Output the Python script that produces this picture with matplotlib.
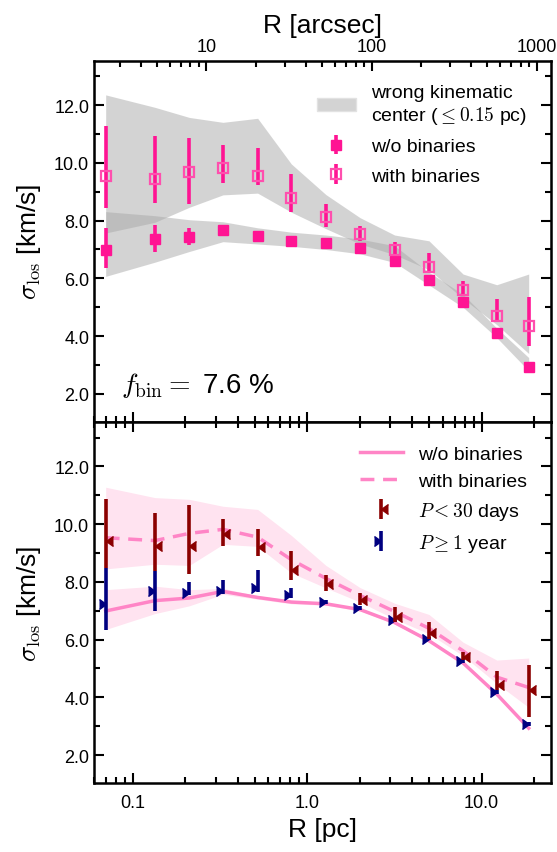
import numpy as np
import matplotlib
matplotlib.use("Agg")
import matplotlib.pyplot as plt
from matplotlib.patches import Patch
from matplotlib.ticker import MultipleLocator, FixedLocator, FixedFormatter, LogLocator, NullFormatter

plt.rcParams['font.family'] = ['Liberation Sans', 'DejaVu Sans']
plt.rcParams['mathtext.fontset'] = 'cm'

# radial bins [pc]
r_pc = [0.070, 0.134, 0.211, 0.329, 0.520, 0.811, 1.28, 2.01, 3.17, 4.99, 7.82, 12.2, 18.6]

# dispersion without binaries [km/s] and its error range
sig_nobin = [6.99, 7.35, 7.44, 7.67, 7.46, 7.30, 7.24, 7.04, 6.59, 5.96, 5.19, 4.11, 2.93]
sig_nobin_hi = [7.73, 7.85, 7.73, 7.77, 7.52, 7.36, 7.29, 7.09, 6.64, 6.01, 5.24, 4.16, 2.98]
sig_nobin_lo = [6.35, 6.90, 7.17, 7.57, 7.40, 7.24, 7.19, 6.99, 6.54, 5.91, 5.14, 4.06, 2.88]

# dispersion with binaries [km/s] and its error range
sig_bin = [9.53, 9.43, 9.68, 9.82, 9.55, 8.77, 8.12, 7.53, 6.97, 6.39, 5.61, 4.70, 4.34]
sig_bin_hi = [11.28, 10.92, 10.86, 10.62, 10.51, 9.61, 8.57, 7.80, 7.26, 6.87, 5.91, 5.29, 5.36]
sig_bin_lo = [8.45, 8.61, 8.57, 9.30, 9.23, 8.31, 7.79, 7.30, 6.71, 6.20, 5.44, 4.48, 3.65]

# wrong kinematic centre envelopes
wrong_bin_top = [12.35, 11.92, 11.57, 11.40, 11.54, 9.96, 8.90, 8.10, 7.50, 7.30, 6.15, 5.78, 6.15]
wrong_bin_bot = [7.57, 7.94, 8.46, 8.89, 8.95, 8.29, 7.72, 7.19, 6.82, 6.30, 5.30, 4.40, 3.40]
wrong_nobin_top = [8.31, 8.17, 8.03, 7.96, 7.75, 7.60, 7.50, 7.36, 7.13, 6.21, 5.45, 4.28, 3.26]
wrong_nobin_bot = [6.07, 6.56, 6.93, 7.27, 7.19, 7.11, 7.00, 6.85, 6.55, 5.77, 5.00, 3.95, 2.80]

# short period binaries (P < 30 days)
sig_short = [9.43, 9.24, 9.26, 9.67, 9.20, 8.42, 7.93, 7.37, 6.78, 6.24, 5.40, 4.42, 4.25]
sig_short_hi = [10.87, 10.39, 10.66, 10.18, 9.83, 9.06, 8.24, 7.62, 7.13, 6.61, 5.57, 4.90, 5.11]
sig_short_lo = [8.47, 8.39, 8.28, 9.26, 8.91, 8.05, 7.70, 7.21, 6.61, 6.03, 5.28, 4.25, 3.33]

# long period binaries (P >= 1 year)
sig_long = [7.22, 7.70, 7.62, 7.70, 7.78, 7.53, 7.30, 7.10, 6.67, 6.03, 5.26, 4.19, 3.07]
sig_long_hi = [8.47, 8.39, 7.99, 8.05, 8.42, 7.80, 7.36, 7.16, 6.73, 6.09, 5.32, 4.25, 3.13]
sig_long_lo = [6.32, 6.98, 7.53, 7.59, 7.64, 7.44, 7.24, 7.04, 6.61, 5.97, 5.20, 4.13, 3.01]

pink = '#ff1493'
W, H = 557, 853
fig = plt.figure(figsize=(W / 100, H / 100), dpi=100)
x0, x1 = 94 / W, 550.5 / W
ax1 = fig.add_axes([x0, 1 - 423 / H, x1 - x0, (423 - 61.5) / H])
ax2 = fig.add_axes([x0, 1 - 784 / H, x1 - x0, (784 - 423) / H])


def yerr(v, hi, lo):
    v = np.array(v)
    return [v - np.array(lo), np.array(hi) - v]


def style(ax):
    ax.set_xscale('log')
    ax.set_xlim(0.060, 24.8)
    ax.set_ylim(1.03, 13.54)
    ax.yaxis.set_major_locator(MultipleLocator(2))
    ax.yaxis.set_minor_locator(MultipleLocator(1))
    ax.yaxis.set_major_formatter(plt.FormatStrFormatter('%.1f'))
    ax.tick_params(which='both', direction='in', right=True, top=True, width=1.5, labelsize=13)
    ax.tick_params(which='major', length=7)
    ax.tick_params(which='minor', length=4)
    for s in ax.spines.values():
        s.set_linewidth(1.8)
    ax.set_ylabel(r'$\sigma_{\rm los}$ [km/s]', fontsize=19, labelpad=8)


# ---- top panel
style(ax1)
ax1.fill_between(r_pc, wrong_bin_bot, wrong_bin_top, color='darkgray', alpha=0.5, lw=0)
ax1.fill_between(r_pc, wrong_nobin_bot, wrong_nobin_top, color='darkgray', alpha=0.5, lw=0)
e1 = ax1.errorbar(r_pc, sig_nobin, yerr=yerr(sig_nobin, sig_nobin_hi, sig_nobin_lo), fmt='s',
                  color=pink, ms=7.5, elinewidth=2.6, capsize=0)
e2 = ax1.errorbar(r_pc, sig_bin, yerr=yerr(sig_bin, sig_bin_hi, sig_bin_lo), fmt='s',
                  color=pink, mfc='none', mec='#ff4fae', mew=1.6, ms=7.5, elinewidth=2.6, capsize=0)
ax1.tick_params(axis='x', which='both', labelbottom=False, top=False)
ax1.text(0.06, 0.105, r'$f_{\rm bin}=$' + ' 7.6 %', transform=ax1.transAxes,
         fontsize=20, va='center')
band = Patch(facecolor='#d3d3d3', edgecolor='#e2e2e2')
ax1.legend([band, e1, e2], ['wrong kinematic\ncenter ($\\leq 0.15$ pc)', 'w/o binaries', 'with binaries'],
           loc='upper right', frameon=False, fontsize=14, handlelength=2.0,
           borderaxespad=0.9, labelspacing=0.6, handletextpad=0.8, borderpad=0.3)

# top axis in arcsec
axt = ax1.twiny()
axt.set_xscale('log')
axt.set_xlim(2.087, 1212)
axt.xaxis.set_major_locator(FixedLocator([10, 100, 1000]))
axt.xaxis.set_major_formatter(FixedFormatter(['10', '100', '1000']))
axt.xaxis.set_minor_locator(LogLocator(subs=np.arange(2, 10), numticks=20))
axt.xaxis.set_minor_formatter(NullFormatter())
axt.tick_params(which='both', direction='in', width=1.5, labelsize=13, pad=4)
axt.tick_params(which='major', length=7)
axt.tick_params(which='minor', length=4)
axt.set_xlabel('R [arcsec]', fontsize=19, labelpad=4)

# ---- bottom panel
style(ax2)
ax2.fill_between(r_pc, sig_bin_lo, sig_bin_hi, color='#ffe3f0', lw=0)
ax2.fill_between(r_pc, sig_nobin_lo, sig_nobin_hi, color='#ffe3f0', lw=0)
l1, = ax2.plot(r_pc, sig_nobin, color='#ff85c6', lw=2.5)
l2, = ax2.plot(r_pc, sig_bin, color='#ff85c6', lw=2.5, ls=(0, (4, 2.5)))
ax2.errorbar(r_pc, sig_long, yerr=yerr(sig_long, sig_long_hi, sig_long_lo), fmt='none',
             ecolor='navy', elinewidth=2.6, capsize=0)
ax2.plot(r_pc, sig_long, ls='none', marker=5, color='navy', ms=6.5)
ax2.errorbar(r_pc, sig_short, yerr=yerr(sig_short, sig_short_hi, sig_short_lo), fmt='none',
             ecolor='darkred', elinewidth=2.6, capsize=0)
ax2.plot(r_pc, sig_short, ls='none', marker=4, color='darkred', ms=6.5)
h3 = ax2.errorbar([], [], yerr=[], marker=4, ls='none', color='darkred', ms=6.5, elinewidth=2.6)
h4 = ax2.errorbar([], [], yerr=[], marker=5, ls='none', color='navy', ms=6.5, elinewidth=2.6)
ax2.xaxis.set_major_locator(FixedLocator([0.1, 1.0, 10.0]))
ax2.xaxis.set_major_formatter(FixedFormatter(['0.1', '1.0', '10.0']))
ax2.xaxis.set_minor_locator(LogLocator(subs=np.arange(2, 10), numticks=20))
ax2.xaxis.set_minor_formatter(NullFormatter())
ax2.tick_params(axis='x', pad=8)
ax2.set_xlabel('R [pc]', fontsize=19, labelpad=4)
ax2.legend([l1, l2, h3, h4], ['w/o binaries', 'with binaries', r'$P<30$ days', r'$P\geq1$ year'],
           loc='upper right', frameon=False, fontsize=14, handlelength=2.2,
           borderaxespad=0.9, labelspacing=0.5, handletextpad=0.8, borderpad=0.3)

fig.savefig('out.png', dpi=100)
